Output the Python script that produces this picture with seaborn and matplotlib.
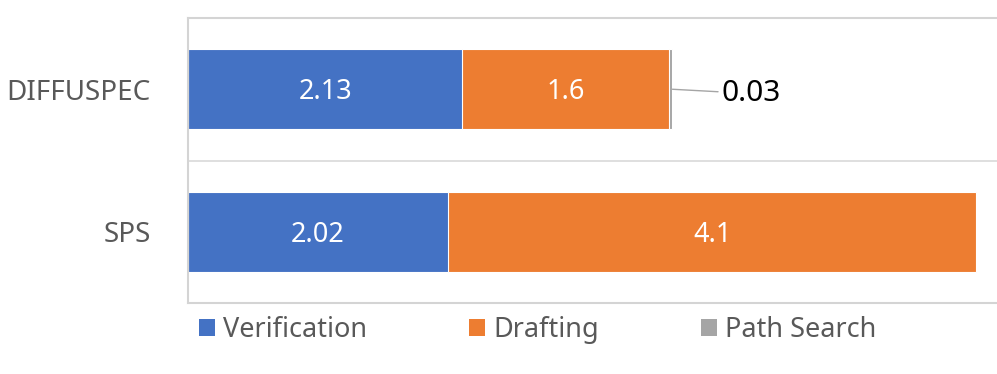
import matplotlib
matplotlib.use('Agg')
import matplotlib.pyplot as plt
from matplotlib.patches import Patch
import pandas as pd
import seaborn as sns

# data
models = ['DIFFUSPEC', 'SPS']
verification = [2.13, 2.02]
drafting = [1.6, 4.1]
path_search = [0.03, 0.0]
series = ['Verification', 'Drafting', 'Path Search']
colors = ['#4472C4', '#ED7D31', '#A5A5A5']

sns.set_theme(style='white')
plt.rcParams['font.family'] = ['Noto Sans', 'DejaVu Sans']

df = pd.DataFrame({'model': models, 'Verification': verification,
                   'Drafting': drafting, 'Path Search': path_search})
# cumulative sums so that later bars sit on top of earlier, longer ones
df['c1'] = df['Verification']
df['c2'] = df['c1'] + df['Drafting']
df['c3'] = df['c2'] + df['Path Search']

fig = plt.figure(figsize=(9.97, 3.74), dpi=100)
ax = fig.add_axes([188/997, 71/374, 809/997, 285/374])

for col, c in zip(['c3', 'c2', 'c1'], colors[::-1]):
    sns.barplot(data=df, x=col, y='model', order=models, orient='h', color=c, saturation=1,
                width=0.56, edgecolor='white', linewidth=0.8, ax=ax)

ax.set_xlim(0, 6.28)
ax.set_ylim(1.5, -0.5)
ax.set_xlabel('')
ax.set_ylabel('')
ax.set_xticks([])
ax.axhline(0.5, color='#D9D9D9', lw=1.2, zorder=0)
ax.spines['right'].set_visible(False)
for s in ['top', 'bottom', 'left']:
    ax.spines[s].set_color('#D4D4D4')
    ax.spines[s].set_linewidth(1.5)
    ax.spines[s].set_visible(True)
ax.tick_params(axis='y', length=0, pad=27, labelsize=20, labelcolor='#595959')

# value labels inside segments
for i, row in df.iterrows():
    ax.text(row['Verification'] / 2, i + 0.02, f"{row['Verification']:g}", ha='center', va='center',
            color='white', fontsize=19.5)
    ax.text(row['c1'] + row['Drafting'] / 2, i + 0.02, f"{row['Drafting']:g}", ha='center', va='center',
            color='white', fontsize=19.5)
    if row['Path Search'] > 0:
        ax.annotate(f"{row['Path Search']:g}", xy=(row['c3'], i), xytext=(row['c3'] + 0.38, i + 0.03),
                    ha='left', va='center', fontsize=21.5, color='black',
                    arrowprops=dict(arrowstyle='-', color='#A5A5A5', lw=1, shrinkA=0, shrinkB=0))

handles = [Patch(facecolor=c, edgecolor='none') for c in colors]
leg = fig.legend(handles, series, loc='center left', bbox_to_anchor=(199/997, 1 - 330/374),
                 ncol=3, frameon=False, fontsize=19.5, handlelength=0.6, handleheight=0.6,
                 handletextpad=0.3, columnspacing=3.75, borderaxespad=0, borderpad=0)
for t in leg.get_texts():
    t.set_color('#595959')

fig.savefig('out.png', dpi=100)
